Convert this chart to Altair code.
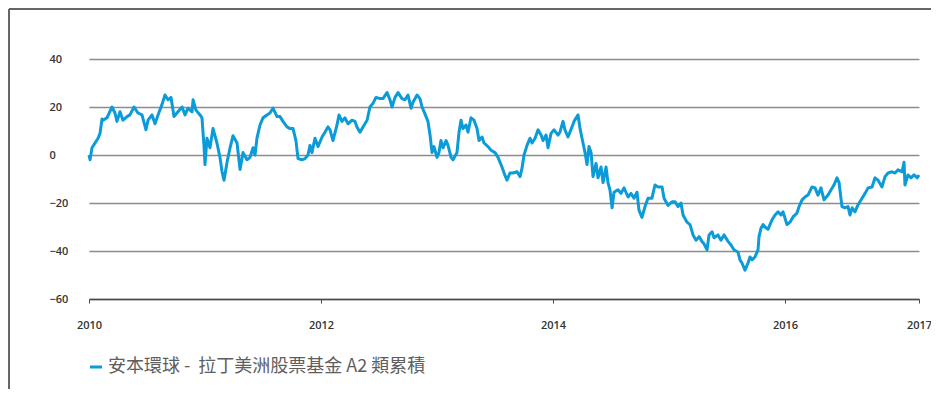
import altair as alt
import pandas as pd

# Decimal-year dates and cumulative performance (%)
dates = [
    2010.000, 2010.009, 2010.026, 2010.052, 2010.078, 2010.095, 2010.112, 2010.121, 2010.155, 2010.198,
    2010.224, 2010.241, 2010.267, 2010.293, 2010.328, 2010.353, 2010.388, 2010.422, 2010.457, 2010.491,
    2010.509, 2010.543, 2010.569, 2010.595, 2010.629, 2010.655, 2010.681, 2010.707, 2010.733, 2010.767,
    2010.802, 2010.828, 2010.853, 2010.888, 2010.897, 2010.922, 2010.957, 2010.974, 2010.991, 2011.000,
    2011.017, 2011.043, 2011.069, 2011.103, 2011.129, 2011.147, 2011.164, 2011.190, 2011.216, 2011.241,
    2011.276, 2011.302, 2011.328, 2011.362, 2011.388, 2011.414, 2011.431, 2011.448, 2011.474, 2011.500,
    2011.534, 2011.560, 2011.586, 2011.621, 2011.647, 2011.672, 2011.707, 2011.733, 2011.759, 2011.784,
    2011.802, 2011.836, 2011.862, 2011.888, 2011.905, 2011.922, 2011.948, 2011.974, 2012.009, 2012.034,
    2012.060, 2012.078, 2012.103, 2012.138, 2012.155, 2012.181, 2012.207, 2012.233, 2012.267, 2012.293,
    2012.310, 2012.336, 2012.362, 2012.397, 2012.422, 2012.448, 2012.474, 2012.509, 2012.534, 2012.569,
    2012.595, 2012.612, 2012.638, 2012.664, 2012.698, 2012.724, 2012.750, 2012.776, 2012.793, 2012.828,
    2012.853, 2012.871, 2012.897, 2012.922, 2012.940, 2012.957, 2012.974, 2013.000, 2013.017, 2013.034,
    2013.052, 2013.078, 2013.095, 2013.121, 2013.138, 2013.172, 2013.190, 2013.207, 2013.224, 2013.250,
    2013.267, 2013.293, 2013.319, 2013.345, 2013.362, 2013.388, 2013.405, 2013.440, 2013.466, 2013.500,
    2013.526, 2013.560, 2013.586, 2013.603, 2013.629, 2013.655, 2013.690, 2013.716, 2013.733, 2013.750,
    2013.776, 2013.802, 2013.819, 2013.845, 2013.871, 2013.897, 2013.914, 2013.940, 2013.957, 2013.983,
    2014.009, 2014.043, 2014.060, 2014.086, 2014.103, 2014.129, 2014.164, 2014.181, 2014.216, 2014.233,
    2014.250, 2014.276, 2014.293, 2014.310, 2014.328, 2014.345, 2014.371, 2014.388, 2014.414, 2014.431,
    2014.457, 2014.474, 2014.491, 2014.509, 2014.526, 2014.560, 2014.586, 2014.612, 2014.647, 2014.672,
    2014.698, 2014.724, 2014.741, 2014.767, 2014.793, 2014.819, 2014.853, 2014.879, 2014.905, 2014.940,
    2014.957, 2014.991, 2015.026, 2015.052, 2015.078, 2015.103, 2015.121, 2015.155, 2015.181, 2015.207,
    2015.233, 2015.259, 2015.284, 2015.302, 2015.328, 2015.345, 2015.371, 2015.388, 2015.422, 2015.448,
    2015.474, 2015.509, 2015.534, 2015.560, 2015.595, 2015.612, 2015.629, 2015.655, 2015.681, 2015.698,
    2015.716, 2015.741, 2015.767, 2015.776, 2015.793, 2015.810, 2015.828, 2015.853, 2015.888, 2015.914,
    2015.940, 2015.966, 2015.983, 2016.017, 2016.043, 2016.069, 2016.103, 2016.121, 2016.147, 2016.172,
    2016.198, 2016.233, 2016.259, 2016.284, 2016.310, 2016.336, 2016.371, 2016.397, 2016.422, 2016.448,
    2016.466, 2016.491, 2016.517, 2016.543, 2016.560, 2016.578, 2016.603, 2016.629, 2016.664, 2016.690,
    2016.716, 2016.750, 2016.776, 2016.802, 2016.836, 2016.862, 2016.888, 2016.922, 2016.948, 2016.974,
    2017.009, 2017.026, 2017.034, 2017.060, 2017.086, 2017.112, 2017.140, 2017.155,
]
values = [
    0, -2, 3, 5, 7, 9, 15, 14.5, 15.5, 20,
    17.5, 14, 18, 14.5, 16, 16.7, 20, 17.5, 16.7, 10.5,
    14.5, 16.7, 13, 16.7, 21, 25, 23, 24, 16, 18,
    20, 16.7, 19.5, 18, 23, 18.7, 16.7, 15.5, 4, -4,
    7, 3, 11, 5, -1, -7, -10.5, -3, 3, 8,
    5, -6, 1, -2, -1, 3, 0, 7, 12.5, 15.5,
    16.7, 17.5, 19.5, 16, 16, 14, 11.7, 11, 11, 6,
    -1.5, -2, -1.5, 0, 4, 1, 7, 3.5, 7.5, 9.5,
    11.7, 10.5, 6, 12.5, 16.7, 14, 15.5, 13, 14.5, 14,
    11.7, 9.5, 11.7, 14.5, 20, 21.5, 24, 23.5, 23.5, 26,
    23, 20, 24, 26, 23.5, 23, 25, 19.5, 22, 25,
    23.5, 20, 17, 14, 8.3, 1, 3.5, -1, 1, 6,
    3, 6, 4, -1, -2, 1, 9.5, 14.5, 11, 12.5,
    9.5, 15.5, 14.5, 11, 6, 7.5, 5, 3.5, 2, 1,
    -1, -5, -8.5, -10.5, -7.5, -7.5, -7, -9, -5.5, 0,
    4, 7, 5, 7, 10.5, 8.3, 6, 8.3, 3, 9,
    10.5, 8.3, 9.5, 14, 10.5, 7.5, 11.7, 14, 16.7, 11,
    7, 1, -4, 3.5, 1, -9, -3.5, -9.5, -5, -11.5,
    -5, -11.5, -14.5, -22, -15.5, -14.5, -16, -13.7, -17.5, -16,
    -18, -15.5, -23, -26, -21.5, -18, -18, -12.5, -13.3, -13.3,
    -18, -21, -19.5, -19.5, -21.5, -20, -25, -28, -29, -33.3,
    -35.5, -34, -36, -37, -39.5, -33.3, -32, -34.5, -33.3, -35.5,
    -33.3, -36, -37.5, -39.5, -40.5, -43.7, -45, -48, -45, -42.5,
    -43.7, -42.5, -39.5, -34, -30.5, -29, -30, -31, -27, -25,
    -23.7, -25, -23.7, -29, -28, -25.8, -24.2, -21.5, -18.7, -17.5,
    -16.7, -13.3, -13.7, -16.7, -13.7, -18.7, -16.7, -14.5, -12.5, -9.5,
    -11.5, -21.5, -22, -21.5, -25, -22, -23.7, -20.8, -18, -16,
    -13.7, -13.3, -9.5, -10.5, -13.3, -9, -7.5, -7, -7.5, -6.2,
    -7, -3, -12.5, -8.3, -9.5, -8.3, -9.5, -8.3,
]

series_name = "安本環球 -\u00a0 拉丁美洲股票基金 A2 類累積"
y_ticks = [-60, -40, -20, 0, 20, 40]
x_start = 2010
x_end = 2017.155
x_ticks = [2010, 2012, 2014, 2016, x_end]

df = pd.DataFrame({"year": dates, "value": values, "series": series_name})
frame_df = pd.DataFrame({"k": [0]})

line = alt.Chart(df).mark_line(strokeWidth=3, strokeJoin="round").encode(
    x=alt.X(
        "year:Q",
        scale=alt.Scale(domain=[x_start, x_end], nice=False, zero=False),
        axis=alt.Axis(
            values=x_ticks,
            labelExpr="datum.value > 2016.5 ? '2017' : format(datum.value, 'd')",
            grid=False,
            domainColor="#4a4a4a",
            domainWidth=1.5,
            tickColor="#4a4a4a",
            tickSize=4,
            labelPadding=16,
            labelFlush=False,
            labelOverlap=False,
            title=None,
        ),
    ),
    y=alt.Y(
        "value:Q",
        scale=alt.Scale(domain=[-60, 40], nice=False, zero=False),
        axis=alt.Axis(
            values=y_ticks,
            grid=True,
            gridColor="#8c8c8c",
            gridWidth=1.5,
            domain=False,
            ticks=False,
            tickSize=0,
            labelAlign="left",
            labelPadding=40,
            title=None,
        ),
    ),
    color=alt.Color(
        "series:N",
        scale=alt.Scale(domain=[series_name], range=["#0a9bd8"]),
        legend=alt.Legend(
            title=None,
            orient="none",
            legendX=-2,
            legendY=299,
            symbolType="stroke",
            symbolStrokeWidth=3,
            symbolSize=144,
            labelFontSize=18,
            labelColor="#5e5e5e",
            labelFont="Noto Sans CJK TC",
            labelFontWeight="normal",
            labelLimit=0,
            padding=0,
            labelOffset=3,
        ),
    ),
)

frame_left = alt.Chart(frame_df).mark_rule(color="#666666", strokeWidth=2).encode(
    x=alt.value(-80), y=alt.value(-50), y2=alt.value(400)
)
frame_top = alt.Chart(frame_df).mark_rule(color="#666666", strokeWidth=2).encode(
    x=alt.value(-80), x2=alt.value(900), y=alt.value(-50)
)

chart = (
    alt.layer(frame_top, frame_left, line)
    .properties(
        width=830,
        height=240,
        padding={"left": 81, "top": 51, "right": 12, "bottom": 90},
        autosize=alt.AutoSizeParams(type="none"),
    )
    .configure_view(stroke=None)
    .configure_axis(
        labelFont="Open Sans",
        labelFontSize=11,
        labelFontWeight=600,
        labelColor="#333333",
    )
)

chart.save("out.html", embed_options={"renderer": "svg", "actions": False})
